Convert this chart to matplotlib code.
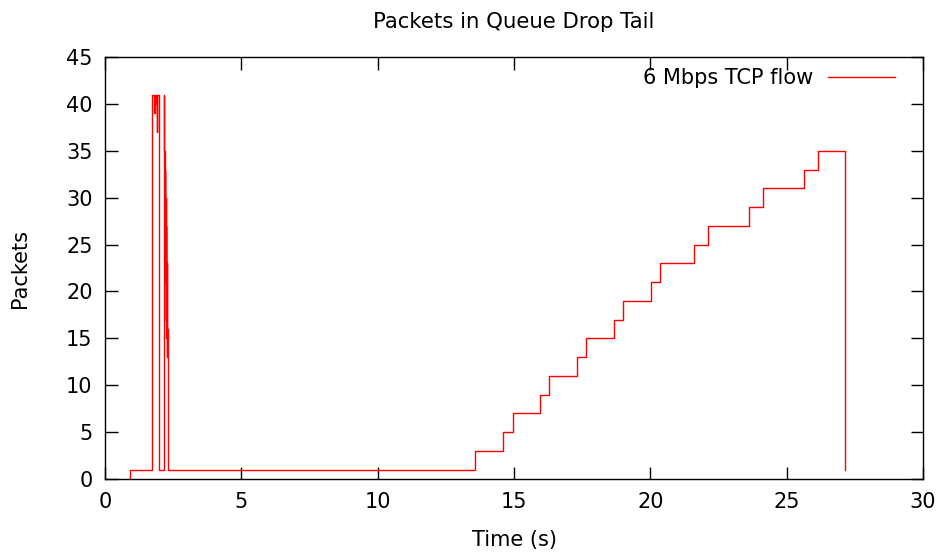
import matplotlib
matplotlib.use("Agg")
import matplotlib.pyplot as plt

# Queue occupancy samples (time in s, packets), drawn as steps
times = [0.90, 0.91, 1.72, 1.80, 1.82, 1.84, 1.86, 1.90, 1.92, 1.99,
         2.16, 2.18, 2.19, 2.20, 2.21, 2.22, 2.23, 2.24, 2.25, 2.26, 2.27, 2.28, 2.29, 2.30,
         13.58, 14.59, 14.95, 15.94, 16.28, 17.31, 17.64, 18.67, 19.00, 20.01,
         20.35, 21.59, 22.10, 23.62, 24.13, 25.65, 26.15, 27.14]
packets = [0, 1, 41, 39, 41, 40, 41, 37, 41, 1,
           41, 35, 23, 33, 21, 30, 17, 27, 15, 23, 17, 13, 16, 1,
           3, 5, 7, 9, 11, 13, 15, 17, 19, 21,
           23, 25, 27, 29, 31, 33, 35, 1]

title = "Packets in Queue Drop Tail"
series_label = "6 Mbps TCP flow"
xlabel = "Time (s)"
ylabel = "Packets"
xticks = [0, 5, 10, 15, 20, 25, 30]
yticks = [0, 5, 10, 15, 20, 25, 30, 35, 40, 45]

fig = plt.figure(figsize=(9.43, 5.54), dpi=100)
ax = fig.add_axes([105/943, 1-479/554, (923-105)/943, (479-57)/554])

ax.plot(times, packets, drawstyle="steps-post", color="red", lw=1.0, label=series_label)

ax.set_xlim(0, 30)
ax.set_ylim(0, 45)
ax.set_xticks(xticks)
ax.set_yticks(yticks)
ax.tick_params(direction="in", length=9, width=1, top=True, right=True, labelsize=15, pad=9)
for s in ax.spines.values():
    s.set_linewidth(1)

ax.set_title(title, fontsize=15.3, pad=21)
ax.set_xlabel(xlabel, fontsize=15, labelpad=13)
ax.set_ylabel(ylabel, fontsize=15, labelpad=26)

leg = ax.legend(loc="upper right", frameon=False, fontsize=15, markerfirst=False,
                handlelength=3.2, handletextpad=0.7, borderaxespad=0.3,
                bbox_to_anchor=(0.983, 1.008))

fig.savefig("out.png", dpi=100)
